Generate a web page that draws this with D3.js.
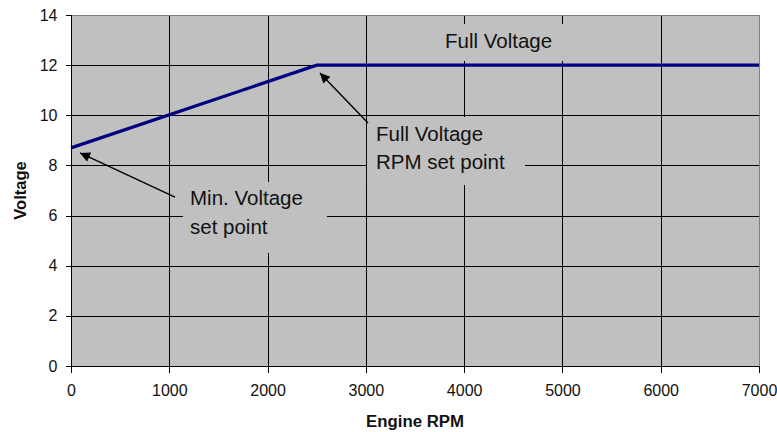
<!DOCTYPE html>
<html>
<head>
<meta charset="utf-8">
<script src="https://cdn.jsdelivr.net/npm/d3@7"></script>
<style>
  html, body { margin: 0; padding: 0; background: #fff; }
  svg { display: block; }
</style>
</head>
<body>
<svg id="chart" width="777" height="432"></svg>
<script>
// ---- data ----
const rpm = [0, 2500, 7000];
const voltage = [8.7, 12, 12];
const xTickValues = [0, 1000, 2000, 3000, 4000, 5000, 6000, 7000];
const yTickValues = [0, 2, 4, 6, 8, 10, 12, 14];
const xTitle = "Engine RPM";
const yTitle = "Voltage";

// annotation text (positions in data units)
const labelLines = [
  ["Full Voltage"],
  ["Full Voltage", "RPM set point"],
  ["Min. Voltage", "set point"]
];
const labelAnchor = [[3805, 12.7], [3103, 8.975], [1211, 6.42]];
const labelBox = [
  [3724, 13.64, 5087, 12.17],
  [3011, 9.93, 4619, 7.22],
  [1139, 7.34, 2604, 4.51]
];
const arrowFrom = [[3022, 9.69], [1058, 6.74]];
const arrowTo = [[2533, 11.69], [92, 8.5]];

// ---- layout ----
const svg = d3.select("#chart");
const pL = 71, pR = 759, pT = 15, pB = 366;
const x = d3.scaleLinear().domain([0, 7000]).range([pL, pR]);
const y = d3.scaleLinear().domain([0, 14]).range([pB, pT]);

const font = "'Liberation Sans', Arial, sans-serif";

// plot background
svg.append("rect")
  .attr("x", pL).attr("y", pT)
  .attr("width", pR - pL).attr("height", pB - pT)
  .attr("fill", "#c0c0c0");

// gridlines
const g = svg.append("g").attr("shape-rendering", "crispEdges");
g.selectAll(".hg").data(yTickValues.filter(v => v > 0 && v < 14)).join("line")
  .attr("x1", pL).attr("x2", pR)
  .attr("y1", d => Math.round(y(d)) + 0.5).attr("y2", d => Math.round(y(d)) + 0.5)
  .attr("stroke", "#000").attr("stroke-width", 1);
g.selectAll(".vg").data(xTickValues.filter(v => v > 0 && v < 7000)).join("line")
  .attr("y1", pT).attr("y2", pB)
  .attr("x1", d => Math.round(x(d)) + 0.5).attr("x2", d => Math.round(x(d)) + 0.5)
  .attr("stroke", "#000").attr("stroke-width", 1);

// plot border top/right gray
g.append("line").attr("x1", pL).attr("x2", pR + 1).attr("y1", pT + 0.5).attr("y2", pT + 0.5)
  .attr("stroke", "#808080");
g.append("line").attr("x1", pR + 0.5).attr("x2", pR + 0.5).attr("y1", pT).attr("y2", pB)
  .attr("stroke", "#808080");

// label boxes (cover gridlines)
svg.append("g").selectAll("rect").data(labelBox).join("rect")
  .attr("x", d => x(d[0])).attr("y", d => y(d[1]))
  .attr("width", d => x(d[2]) - x(d[0])).attr("height", d => y(d[3]) - y(d[1]))
  .attr("fill", "#c0c0c0");

// series line
svg.append("path")
  .datum(rpm.map((r, i) => [r, voltage[i]]))
  .attr("d", d3.line().x(d => x(d[0])).y(d => y(d[1])))
  .attr("fill", "none").attr("stroke", "#000080").attr("stroke-width", 3.2)
  .attr("stroke-linejoin", "miter");

// axes
const xAxis = d3.axisBottom(x).tickValues(xTickValues).tickFormat(d3.format("d"))
  .tickSize(6).tickSizeOuter(0).tickPadding(12);
const yAxis = d3.axisLeft(y).tickValues(yTickValues).tickFormat(d3.format("d"))
  .tickSize(6).tickSizeOuter(0).tickPadding(8);

const gx = svg.append("g").attr("transform", `translate(0,${pB + 0.5})`).call(xAxis);
const gy = svg.append("g").attr("transform", `translate(${pL + 0.5},0)`).call(yAxis);
[gx, gy].forEach(a => {
  a.attr("shape-rendering", "crispEdges");
  a.select(".domain").attr("stroke", "#000");
  a.selectAll(".tick line").attr("stroke", "#000");
  a.selectAll(".tick text").attr("font-family", font).attr("font-size", 16).attr("fill", "#111");
});
gy.select(".domain").attr("d", `M0,${pB}V${pT}`);
gx.select(".domain").attr("d", `M${pL},0H${pR + 1}`);

// axis titles
svg.append("text").attr("x", (pL + pR) / 2).attr("y", 427)
  .attr("text-anchor", "middle").attr("font-family", font).attr("font-weight", "bold")
  .attr("font-size", 16.8).attr("fill", "#111").text(xTitle);
svg.append("text").attr("transform", `translate(26,${(pT + pB) / 2}) rotate(-90)`)
  .attr("text-anchor", "middle").attr("font-family", font).attr("font-weight", "bold")
  .attr("font-size", 16.5).attr("fill", "#111").text(yTitle);

// arrowhead marker
svg.append("defs").append("marker")
  .attr("id", "ah").attr("viewBox", "0 0 10 10").attr("refX", 10).attr("refY", 5)
  .attr("markerWidth", 14).attr("markerHeight", 10).attr("markerUnits", "userSpaceOnUse")
  .attr("orient", "auto")
  .append("path").attr("d", "M0,0L10,5L0,10Z").attr("fill", "#000");

svg.append("g").selectAll("line").data(arrowFrom).join("line")
  .attr("x1", d => x(d[0])).attr("y1", d => y(d[1]))
  .attr("x2", (d, i) => x(arrowTo[i][0])).attr("y2", (d, i) => y(arrowTo[i][1]))
  .attr("stroke", "#000").attr("stroke-width", 1.4)
  .attr("marker-end", "url(#ah)");

// annotation labels
labelLines.forEach((lines, i) => {
  const t = svg.append("text")
    .attr("font-family", font).attr("font-size", 20.5).attr("fill", "#111");
  lines.forEach((ln, j) => {
    t.append("tspan").attr("x", x(labelAnchor[i][0])).attr("y", y(labelAnchor[i][1]) + j * 28.5).text(ln);
  });
});
</script>
</body>
</html>
